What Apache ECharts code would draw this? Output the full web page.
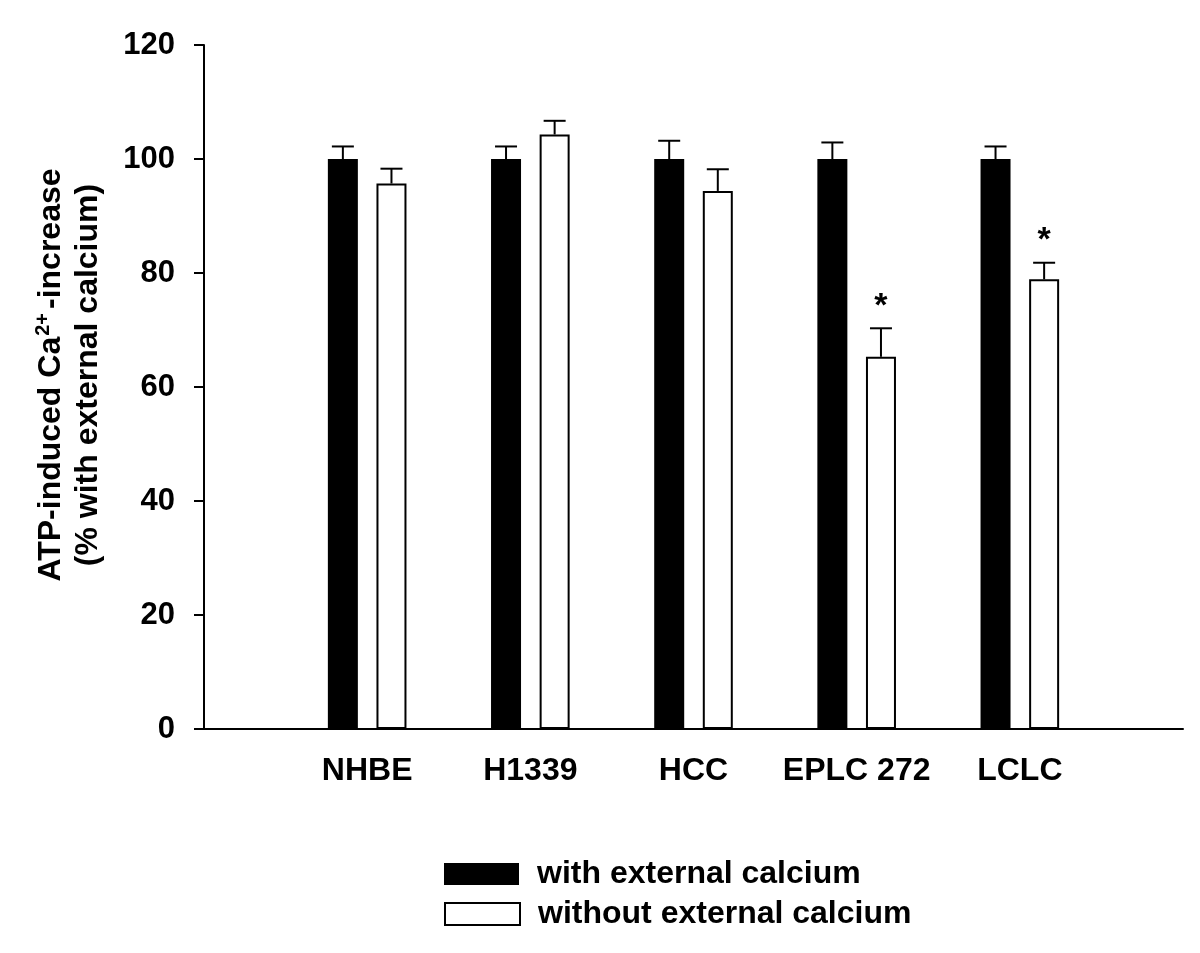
<!DOCTYPE html>
<html>
<head>
<meta charset="utf-8">
<script src="https://cdn.jsdelivr.net/npm/echarts@6/dist/echarts.min.js"></script>
<style>
html,body{margin:0;padding:0;background:#fff;}
#chart{width:1200px;height:953px;}
</style>
</head>
<body>
<div id="chart"></div>
<script>
// ---- data ----
const categories = ['NHBE', 'H1339', 'HCC', 'EPLC 272', 'LCLC'];
const withCalcium = [100, 100, 100, 100, 100];
const withCalciumErr = [2.2, 2.2, 3.2, 2.9, 2.2];
const withoutCalcium = [95.7, 104.3, 94.4, 65.3, 78.9];
const withoutCalciumErr = [2.6, 2.4, 3.8, 5.0, 2.9];
const significant = [0, 0, 0, 1, 1];
const yTicks = [0, 20, 40, 60, 80, 100, 120];
const seriesNames = ['with external calcium', 'without external calcium'];

const FONT = '"Liberation Sans", Arial, Helvetica, sans-serif';
const BAR_W = 30;
const BAR_GAP_PX = 18.6;
const OFFSET = (BAR_W + BAR_GAP_PX) / 2;

const barData = (vals) => vals.map((v, i) => [i + 1, v]);
const errData = (vals, errs, sig) => vals.map((v, i) => [i + 1, v, errs[i], sig ? sig[i] : 0]);

function errRenderer(offset) {
  return function (params, api) {
    const x = api.value(0), v = api.value(1), e = api.value(2), s = api.value(3);
    const base = api.coord([x, v]);
    const top = api.coord([x, v + e]);
    const cx = base[0] + offset;
    const children = [
      { type: 'line', shape: { x1: cx, y1: base[1], x2: cx, y2: top[1] }, style: { stroke: '#000', lineWidth: 2 } },
      { type: 'line', shape: { x1: cx - 11, y1: top[1], x2: cx + 11, y2: top[1] }, style: { stroke: '#000', lineWidth: 2 } }
    ];
    if (s) {
      children.push({
        type: 'text',
        style: { text: '*', x: cx, y: top[1] - 5, align: 'center', verticalAlign: 'bottom',
                 fill: '#000', font: 'bold 34px ' + FONT }
      });
    }
    return { type: 'group', children: children };
  };
}

const legendCommon = {
  orient: 'vertical',
  left: 444,
  icon: 'rect',
  itemWidth: 75,
  itemHeight: 22,
  selectedMode: false,
  padding: 0,
  textStyle: { fontSize: 32, fontWeight: 'bold', color: '#000', fontFamily: FONT, lineHeight: 22, padding: [0, 0, 0, 13] }
};

const chart = echarts.init(document.getElementById('chart'), null, { renderer: 'canvas' });
chart.setOption({
  backgroundColor: '#fff',
  animation: false,
  textStyle: { fontFamily: FONT },
  grid: { left: 204, right: 17, top: 45, bottom: 224, containLabel: false },
  legend: [
    Object.assign({}, legendCommon, { data: [seriesNames[0]], top: 858 }),
    Object.assign({}, legendCommon, { data: [seriesNames[1]], top: 898 })
  ],
  xAxis: {
    type: 'value',
    min: 0,
    max: categories.length + 1,
    interval: 1,
    axisLine: { show: true, lineStyle: { color: '#000', width: 2 } },
    axisTick: { show: false },
    splitLine: { show: false },
    axisLabel: {
      margin: 26,
      fontSize: 32,
      fontWeight: 'bold',
      color: '#000',
      fontFamily: FONT,
      formatter: (v) => categories[v - 1] || ''
    }
  },
  yAxis: {
    type: 'value',
    min: yTicks[0],
    max: yTicks[yTicks.length - 1],
    interval: 20,
    name: 'ATP-induced Ca{sup|2+}{n|-increase}\n(% with external calcium)',
    nameLocation: 'middle',
    nameRotate: 90,
    nameGap: 97,
    nameTextStyle: {
      fontSize: 32,
      fontWeight: 'bold',
      color: '#000',
      fontFamily: FONT,
      lineHeight: 37,
      padding: [0, 0, 0, 24],
      rich: {
        sup: { fontSize: 20, fontWeight: 'bold', color: '#000', fontFamily: FONT, verticalAlign: 'top', lineHeight: 37, padding: [0, 4, 14, 1] },
        n: { fontSize: 32, fontWeight: 'bold', color: '#000', fontFamily: FONT, lineHeight: 37 }
      }
    },
    axisLine: { show: true, lineStyle: { color: '#000', width: 2 } },
    axisTick: { show: true, inside: false, length: 10, lineStyle: { color: '#000', width: 2 } },
    splitLine: { show: false },
    axisLabel: { margin: 29, fontSize: 31, fontWeight: 'bold', color: '#000', fontFamily: FONT }
  },
  series: [
    {
      name: seriesNames[0],
      type: 'bar',
      barWidth: BAR_W,
      barGap: (BAR_GAP_PX / BAR_W * 100).toFixed(1) + '%',
      itemStyle: { color: '#000' },
      data: barData(withCalcium),
      z: 2
    },
    {
      name: seriesNames[1],
      type: 'bar',
      barWidth: BAR_W,
      barGap: (BAR_GAP_PX / BAR_W * 100).toFixed(1) + '%',
      itemStyle: { color: '#fff', borderColor: '#000', borderWidth: 2 },
      data: barData(withoutCalcium),
      z: 2
    },
    {
      name: 'err-with',
      type: 'custom',
      renderItem: errRenderer(-OFFSET),
      data: errData(withCalcium, withCalciumErr, null),
      encode: { x: 0, y: 1 },
      z: 3,
      silent: true
    },
    {
      name: 'err-without',
      type: 'custom',
      renderItem: errRenderer(OFFSET),
      data: errData(withoutCalcium, withoutCalciumErr, significant),
      encode: { x: 0, y: 1 },
      z: 3,
      silent: true
    }
  ]
});
</script>
</body>
</html>
